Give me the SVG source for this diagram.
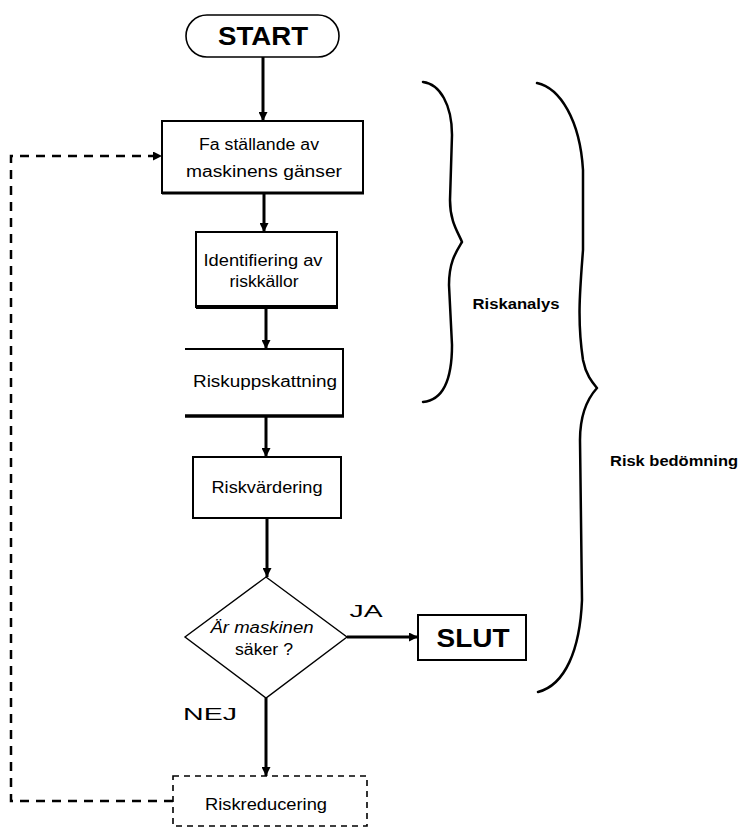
<svg xmlns="http://www.w3.org/2000/svg" width="744" height="828" viewBox="0 0 744 828">
<defs>
<marker id="ah" viewBox="0 0 10 10" refX="10" refY="5" markerWidth="9" markerHeight="9" markerUnits="userSpaceOnUse" orient="auto">
<path d="M0,0 L10,5 L0,10 z" fill="#000"/>
</marker>
</defs>
<style>
.box{fill:#fff;stroke:#000;stroke-width:2}
.t{font-family:"Liberation Sans",Arial,sans-serif;font-size:16px;fill:#000;text-anchor:middle}
.b{font-family:"Liberation Sans",Arial,sans-serif;font-weight:bold;fill:#000;text-anchor:middle}
.c{fill:none;stroke:#000;stroke-width:3}
.brace{fill:none;stroke:#000;stroke-width:2.5;stroke-linejoin:round;stroke-linecap:round}
</style>
<rect width="744" height="828" fill="#fff"/>

<g id="connectors">
<line class="c" x1="263" y1="57" x2="263" y2="121" marker-end="url(#ah)"/>
<line class="c" x1="264" y1="194" x2="264" y2="232" marker-end="url(#ah)"/>
<line class="c" x1="266" y1="308" x2="266" y2="349" marker-end="url(#ah)"/>
<line class="c" x1="266" y1="417" x2="266" y2="457" marker-end="url(#ah)"/>
<line class="c" x1="267" y1="519" x2="267" y2="577" marker-end="url(#ah)"/>
<line class="c" x1="347" y1="637" x2="418" y2="637" stroke-width="2.5" marker-end="url(#ah)"/>
<line class="c" x1="266" y1="698" x2="266" y2="776" marker-end="url(#ah)"/>
<path d="M173,801 L11,801 L11,156 L162,156" fill="none" stroke="#000" stroke-width="2.5" stroke-dasharray="9,7" marker-end="url(#ah)"/>
</g>

<g id="start">
<rect x="186" y="15" width="153" height="42" rx="21" ry="21" fill="#fff" stroke="#000" stroke-width="1.6"/>
<text class="b" x="263" y="45" font-size="26" textLength="90" lengthAdjust="spacingAndGlyphs">START</text>
</g>

<g id="n1">
<rect class="box" x="162" y="121" width="201" height="72"/>
<line x1="162" y1="193" x2="364" y2="193" stroke="#000" stroke-width="3"/>
<text class="t" x="259" y="150" textLength="120" lengthAdjust="spacingAndGlyphs">Fa ställande av</text>
<text class="t" x="264" y="177" textLength="156" lengthAdjust="spacingAndGlyphs">maskinens gänser</text>
</g>

<g id="n2">
<rect class="box" x="196" y="232" width="141" height="75"/>
<line x1="196" y1="307" x2="338" y2="307" stroke="#000" stroke-width="4"/>
<text class="t" x="263" y="266" textLength="119" lengthAdjust="spacingAndGlyphs">Identifiering av</text>
<text class="t" x="264" y="287" textLength="69" lengthAdjust="spacingAndGlyphs">riskkällor</text>
</g>

<g id="n3">
<path d="M185,349 L343,349 L343,416" fill="none" stroke="#000" stroke-width="2"/>
<line x1="185" y1="416" x2="344" y2="416" stroke="#000" stroke-width="3.5"/>
<text class="t" x="265" y="387" textLength="144" lengthAdjust="spacingAndGlyphs">Riskuppskattning</text>
</g>

<g id="n4">
<rect class="box" x="193" y="457" width="148" height="61"/>
<text class="t" x="267" y="493" textLength="111" lengthAdjust="spacingAndGlyphs">Riskvärdering</text>
</g>

<g id="decision">
<path d="M266,577 L347,637 L266,698 L185,637 z" fill="#fff" stroke="#000" stroke-width="1.4"/>
<text class="t" x="262" y="633" font-style="italic" textLength="103" lengthAdjust="spacingAndGlyphs">Är maskinen</text>
<text class="t" x="264" y="655" textLength="58" lengthAdjust="spacingAndGlyphs">säker ?</text>
</g>

<g id="ja">
<text class="t" x="366" y="617" font-size="19" textLength="33" lengthAdjust="spacingAndGlyphs">JA</text>
</g>
<g id="nej">
<text class="t" x="210" y="720" font-size="25" textLength="54" lengthAdjust="spacingAndGlyphs">NEJ</text>
</g>

<g id="slut">
<rect class="box" x="418" y="615" width="108" height="45"/>
<text class="b" x="473" y="647" font-size="26" textLength="73" lengthAdjust="spacingAndGlyphs">SLUT</text>
</g>

<g id="n5">
<rect x="173" y="776" width="194" height="50" fill="#fff" stroke="#000" stroke-width="1.6" stroke-dasharray="6,5"/>
<text class="t" x="266" y="810" textLength="122" lengthAdjust="spacingAndGlyphs">Riskreducering</text>
</g>

<g id="riskanalys">
<path class="brace" d="M423,82 C440,84 452,105 452,135 L450,200 C450,222 458,232 462,242 C456,252 449,262 449,285 L452,345 C452,375 445,400 423,402"/>
<text class="b" x="516" y="309" font-size="14" textLength="87" lengthAdjust="spacingAndGlyphs">Riskanalys</text>
</g>

<g id="riskbedomning">
<path class="brace" d="M537,83 C560,88 580,120 583,170 L583,250 C580,290 577,320 583,360 C586,375 592,382 597,388 C588,398 580,415 580,440 L582,600 C580,650 565,685 538,692"/>
<text class="b" x="674" y="466" font-size="14" textLength="128" lengthAdjust="spacingAndGlyphs">Risk bedömning</text>
</g>
</svg>
